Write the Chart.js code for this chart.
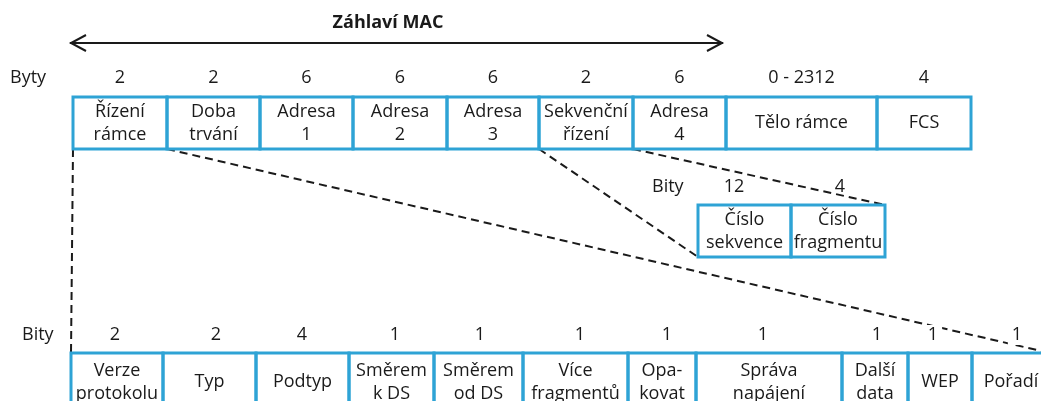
<!DOCTYPE html>
<html lang="cs">
<head>
<meta charset="utf-8">
<title>Záhlaví MAC</title>
<script src="https://cdn.jsdelivr.net/npm/chart.js"></script>
<style>
  body { margin: 0; background: #fff; }
  #wrap { width: 1041px; height: 401px; position: relative; }
</style>
</head>
<body>
<div id="wrap"><canvas id="myChart"></canvas></div>
<script>
// --- data ---
const title = 'Záhlaví MAC';
const topUnit = 'Byty';
const topFields = ['Řízení\nrámce', 'Doba\ntrvání', 'Adresa\n1', 'Adresa\n2', 'Adresa\n3',
                   'Sekvenční\nřízení', 'Adresa\n4', 'Tělo rámce', 'FCS'];
const topSizes = ['2', '2', '6', '6', '6', '2', '6', '0 - 2312', '4'];

const seqUnit = 'Bity';
const seqFields = ['Číslo\nsekvence', 'Číslo\nfragmentu'];
const seqSizes = ['12', '4'];

const ctrlUnit = 'Bity';
const ctrlFields = ['Verze\nprotokolu', 'Typ', 'Podtyp', 'Směrem\nk DS', 'Směrem\nod DS',
                    'Více\nfragmentů', 'Opa-\nkovat', 'Správa\nnapájení', 'Další\ndata', 'WEP', 'Pořadí'];
const ctrlSizes = ['2', '2', '4', '1', '1', '1', '1', '1', '1', '1', '1'];

// --- layout (coordinates of the 1041x401 picture, used through the scales) ---
const topEdges = [73, 167, 260, 353, 447, 539, 633, 726, 877, 971];
const topRow = [97, 149];
const seqEdges = [698, 791, 885];
const seqRow = [205, 257];
const seqSizeX = [734, 840];
const ctrlEdges = [71, 163, 256, 349, 434, 523, 628, 696, 842, 908, 972, 1050];
const ctrlRow = [353, 411];
const ctrlSizeX = [115, 216, 302, 395, 480, 580, 667, 763, 877, 933, 1017];

const BLUE = '#2ea3d5';
const INK = '#1a1a1a';
const FONT = '"Open Sans", sans-serif';

function link(x1, y1, x2, y2) {
    return {
        data: [{ x: x1, y: y1 }, { x: x2, y: y2 }],
        showLine: true,
        borderColor: INK,
        borderWidth: 2,
        borderDash: [8, 5],
        pointRadius: 0
    };
}

const last = ctrlEdges.length - 1;
const datasets = [
    link(topEdges[0], topRow[1], ctrlEdges[0], ctrlRow[0]),
    link(topEdges[1], topRow[1], ctrlEdges[last], ctrlRow[0]),
    link(topEdges[5], topRow[1], seqEdges[0], seqRow[1]),
    link(topEdges[6], topRow[1], seqEdges[2], seqRow[0]),
    {   // MAC header span arrow
        data: [{ x: 70, y: 43 }, { x: 723, y: 43 }],
        showLine: true,
        borderColor: INK,
        borderWidth: 2,
        pointRadius: 0
    }
];

function drawRow(ctx, px, py, o) {
    ctx.font = '18px ' + FONT;
    ctx.textBaseline = 'middle';
    ctx.textAlign = 'left';
    ctx.fillStyle = INK;
    ctx.fillText(o.unit, px(o.unitX), py(o.sizeY));
    ctx.textAlign = 'center';
    const mid = (o.row[0] + o.row[1]) / 2;
    for (let i = 0; i < o.fields.length; i++) {
        const x0 = px(o.edges[i]), x1 = px(o.edges[i + 1]);
        const cx = (x0 + x1) / 2;
        const sx = o.sizeX ? px(o.sizeX[i]) : cx;
        if (o.blank) {
            const w = ctx.measureText(o.sizes[i]).width + 8;
            ctx.fillStyle = '#fff';
            ctx.fillRect(sx - w / 2, py(o.sizeY) - 10, w, 20);
        }
        ctx.fillStyle = INK;
        ctx.fillText(o.sizes[i], sx, py(o.sizeY));
        const lines = o.fields[i].split('\n');
        if (lines.length === 1) {
            ctx.fillText(lines[0], cx, py(mid));
        } else {
            ctx.fillText(lines[0], cx, py(mid - 11.5));
            ctx.fillText(lines[1], cx, py(mid + 11.5));
        }
        ctx.strokeStyle = BLUE;
        ctx.lineWidth = 3;
        ctx.strokeRect(x0, py(o.row[0]), x1 - x0, py(o.row[1]) - py(o.row[0]));
    }
}

const diagram = {
    id: 'diagram',
    afterDatasetsDraw(chart) {
        const { ctx, scales: { x, y } } = chart;
        const px = v => x.getPixelForValue(v);
        const py = v => y.getPixelForValue(v);
        ctx.save();

        // title
        ctx.fillStyle = INK;
        ctx.font = 'bold 18px ' + FONT;
        ctx.textAlign = 'center';
        ctx.textBaseline = 'middle';
        ctx.fillText(title, px(388), py(23));

        // arrow heads
        ctx.strokeStyle = INK;
        ctx.lineWidth = 2;
        ctx.beginPath();
        ctx.moveTo(px(86), py(35)); ctx.lineTo(px(71), py(43)); ctx.lineTo(px(86), py(51));
        ctx.moveTo(px(707), py(35)); ctx.lineTo(px(722), py(43)); ctx.lineTo(px(707), py(51));
        ctx.stroke();

        drawRow(ctx, px, py, { edges: topEdges, row: topRow, fields: topFields, sizes: topSizes,
                               sizeY: 78, unit: topUnit, unitX: 10 });
        drawRow(ctx, px, py, { edges: seqEdges, row: seqRow, fields: seqFields, sizes: seqSizes,
                               sizeX: seqSizeX, sizeY: 187, unit: seqUnit, unitX: 652 });
        drawRow(ctx, px, py, { edges: ctrlEdges, row: ctrlRow, fields: ctrlFields, sizes: ctrlSizes,
                               sizeX: ctrlSizeX, sizeY: 335, unit: ctrlUnit, unitX: 22, blank: true });
        ctx.restore();
    }
};

new Chart(document.getElementById('myChart'), {
    type: 'scatter',
    data: { datasets: datasets },
    options: {
        responsive: true,
        maintainAspectRatio: false,
        animation: false,
        events: [],
        layout: { padding: 0 },
        plugins: { legend: { display: false }, tooltip: { enabled: false } },
        scales: {
            x: { type: 'linear', min: 0, max: 1041, display: false },
            y: { type: 'linear', min: 0, max: 401, reverse: true, display: false }
        }
    },
    plugins: [diagram]
});
</script>
</body>
</html>
